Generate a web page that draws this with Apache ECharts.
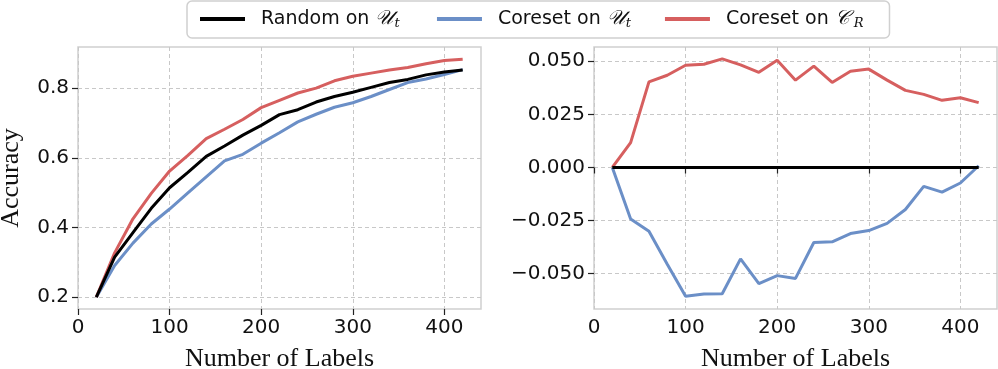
<!DOCTYPE html>
<html>
<head>
<meta charset="utf-8">
<script src="https://cdn.jsdelivr.net/npm/echarts@6/dist/echarts.min.js"></script>
<style>
  html, body { margin: 0; padding: 0; background: #fff; }
  #chart { width: 998px; height: 369px; }
</style>
</head>
<body>
<div id="chart"></div>
<script>
// number of labels
const labels = [20, 40, 60, 80, 100, 120, 140, 160, 180, 200, 220, 240, 260, 280, 300, 320, 340, 360, 380, 400, 420]

// accuracy (left panel)
const randomAcc = [0.200, 0.315, 0.385, 0.455, 0.514, 0.558, 0.604, 0.634, 0.665, 0.693, 0.724, 0.738, 0.760, 0.776, 0.788, 0.802, 0.816, 0.825, 0.838, 0.846, 0.852]
const coresetUAcc = [0.200, 0.291, 0.355, 0.410, 0.453, 0.499, 0.545, 0.591, 0.610, 0.642, 0.672, 0.703, 0.725, 0.745, 0.758, 0.776, 0.796, 0.816, 0.826, 0.839, 0.853]
const coresetCAcc = [0.200, 0.327, 0.425, 0.498, 0.562, 0.607, 0.655, 0.682, 0.710, 0.744, 0.765, 0.786, 0.800, 0.821, 0.834, 0.843, 0.852, 0.859, 0.870, 0.879, 0.883]

// difference to random (right panel)
const randomDiff = [0, 0, 0, 0, 0, 0, 0, 0, 0, 0, 0, 0, 0, 0, 0, 0, 0, 0, 0, 0, 0]
const coresetUDiff = [0, -0.0242, -0.0300, -0.0455, -0.0606, -0.0595, -0.0594, -0.0430, -0.0547, -0.0509, -0.0522, -0.0353, -0.0350, -0.0311, -0.0297, -0.0263, -0.0198, -0.0089, -0.0116, -0.0073, 0.0008]
const coresetCDiff = [0, 0.0117, 0.0403, 0.0434, 0.0481, 0.0486, 0.0511, 0.0483, 0.0448, 0.0505, 0.0411, 0.0477, 0.0400, 0.0453, 0.0463, 0.0411, 0.0363, 0.0344, 0.0316, 0.0328, 0.0305]

// tick labels
const xTicks = [0, 100, 200, 300, 400]
const accTicks = [0.2, 0.4, 0.6, 0.8]
const diffTicks = [-0.05, -0.025, 0, 0.025, 0.05]

const names = ['Random on U', 'Coreset on U', 'Coreset on C']
const colors = ['#000000', '#6b8fc7', '#d65f5f']

const tickFont = { fontFamily: 'DejaVu Sans', fontSize: 20, color: '#111' }
const nameFont = { fontFamily: 'Liberation Serif', fontSize: 26, color: '#111' }

function zip(xs, ys) {
  return xs.map((x, i) => [x, ys[i]])
}

function xAxis(gridIndex) {
  return {
    type: 'value',
    gridIndex,
    min: 0,
    max: 440,
    name: 'Number of Labels',
    nameLocation: 'middle',
    nameGap: 37,
    nameTextStyle: nameFont,
    axisLine: { show: false },
    axisTick: { show: true, length: 6, customValues: xTicks, lineStyle: { color: '#222', width: 1.2 } },
    axisLabel: { ...tickFont, margin: 9, customValues: xTicks },
    splitLine: { show: true, lineStyle: { color: '#c8c8c8', type: [4, 3], width: 1 } }
  }
}

function yAxis(gridIndex, min, max, ticks, fmt, name) {
  return {
    type: 'value',
    gridIndex,
    min,
    max,
    name,
    nameLocation: 'middle',
    nameGap: 54,
    nameRotate: 90,
    nameTextStyle: nameFont,
    axisLine: { show: false },
    axisTick: { show: true, length: 6, customValues: ticks, lineStyle: { color: '#222', width: 1.2 } },
    axisLabel: { ...tickFont, margin: 9, customValues: ticks, formatter: fmt },
    splitLine: { show: true, lineStyle: { color: '#c8c8c8', type: [4, 3], width: 1 } }
  }
}

function line(name, data, idx, color) {
  return {
    name,
    type: 'line',
    xAxisIndex: idx,
    yAxisIndex: idx,
    data,
    showSymbol: false,
    symbol: 'none',
    lineStyle: { color, width: 3 },
    itemStyle: { color },
    z: name === names[0] ? 3 : 2
  }
}

const chart = echarts.init(document.getElementById('chart'), null, { renderer: 'canvas' })

const options = {
  animation: false,
  legend: {
    left: 187,
    top: 1,
    padding: [8, 26, 8, 13],
    itemWidth: 45,
    itemHeight: 4,
    itemGap: 34,
    icon: 'rect',
    borderColor: '#d0d0d0',
    borderWidth: 1.5,
    borderRadius: 5,
    data: names,
    formatter: function (n) {
      if (n === names[0]) return '{n|Random on }{m|𝒰}{s|t}{g| }'
      if (n === names[1]) return '{n|Coreset on }{m|𝒰}{s|t}'
      return '{n|Coreset on }{m|𝒞}{s|R}'
    },
    textStyle: {
      padding: [0, 0, 0, 11],
      rich: {
        n: { fontFamily: 'DejaVu Sans', fontSize: 19, color: '#111' },
        m: { fontFamily: 'DejaVu Serif', fontSize: 20, fontStyle: 'italic', color: '#111', width: 19 },
        s: { fontFamily: 'DejaVu Serif', fontSize: 13, fontStyle: 'italic', color: '#111', padding: [9, 0, 0, 0] },
        g: { fontSize: 12, width: 8 }
      }
    }
  },
  grid: [
    { left: 78, top: 47, width: 403, height: 262, outerBoundsMode: 'none', show: true, borderColor: '#d0d0d0', borderWidth: 1.5, backgroundColor: 'transparent' },
    { left: 594, top: 47, width: 403, height: 262, outerBoundsMode: 'none', show: true, borderColor: '#d0d0d0', borderWidth: 1.5, backgroundColor: 'transparent' }
  ],
  xAxis: [xAxis(0), xAxis(1)],
  yAxis: [
    yAxis(0, 0.166, 0.918, accTicks, v => v.toFixed(1), 'Accuracy'),
    yAxis(1, -0.0666, 0.0567, diffTicks, v => v.toFixed(3).replace('-', '\u2212'), '')
  ],
  series: [
    line(names[0], zip(labels, randomAcc), 0, colors[0]),
    line(names[1], zip(labels, coresetUAcc), 0, colors[1]),
    line(names[2], zip(labels, coresetCAcc), 0, colors[2]),
    line(names[0], zip(labels, randomDiff), 1, colors[0]),
    line(names[1], zip(labels, coresetUDiff), 1, colors[1]),
    line(names[2], zip(labels, coresetCDiff), 1, colors[2])
  ]
}

chart.setOption(options)
</script>
</body>
</html>
